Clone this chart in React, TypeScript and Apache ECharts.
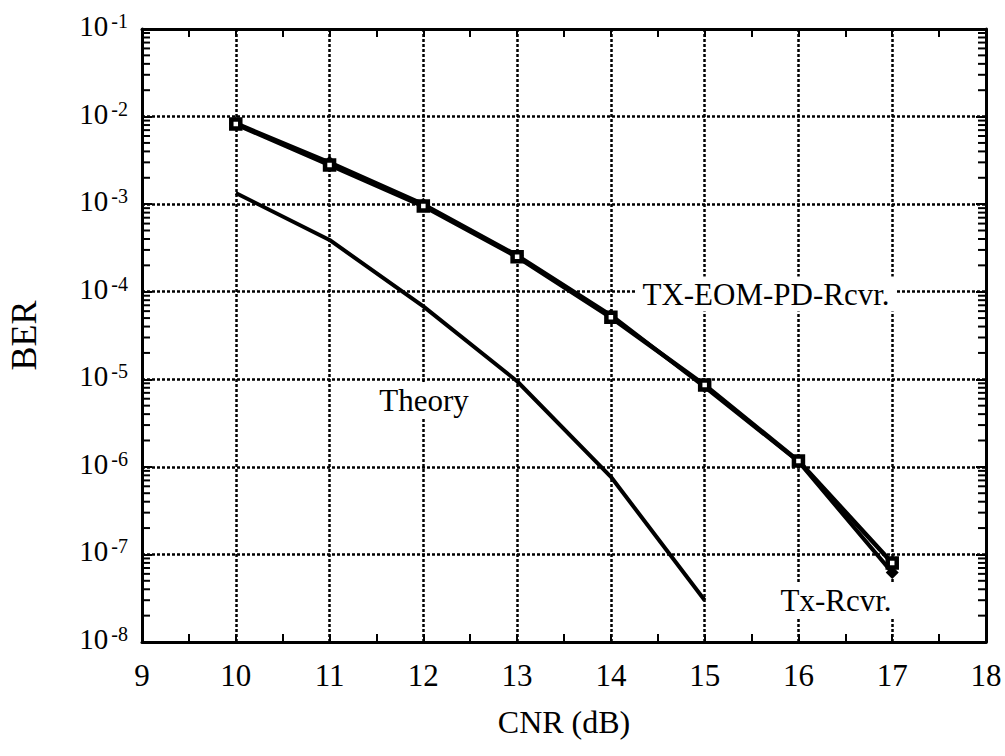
import React, { useEffect, useRef } from 'react';
import * as echarts from 'echarts';

const cnr = [10, 11, 12, 13, 14, 15, 16, 17];
const berTxEomPdRcvr = [8.2e-3, 2.8e-3, 9.5e-4, 2.5e-4, 5.1e-5, 8.6e-6, 1.17e-6, 8.0e-8];
const berTxRcvr = [8.4e-3, 3.0e-3, 1.0e-3, 2.6e-4, 5.4e-5, 8.2e-6, 1.15e-6, 6.2e-8];
const cnrTheory = [10, 11, 12, 13, 14, 15];
const berTheory = [1.34e-3, 3.9e-4, 6.8e-5, 9.5e-6, 7.7e-7, 3.0e-8];
const xMin = 9;
const xMax = 18;
const yMinExp = -8;
const yMaxExp = -1;
const minorMultipliers = [2, 3, 4, 5, 6, 7, 8, 9];

const FONT = 'Liberation Serif';

export default function App() {
  const ref = useRef<HTMLDivElement>(null);
  useEffect(() => {
    if (!ref.current) return;
    const chart = echarts.init(ref.current, undefined, { renderer: 'svg' });

    const minorVals: number[][] = [];
    for (let e = yMinExp; e < yMaxExp; e++) {
      for (const m of minorMultipliers) minorVals.push([xMin, m * Math.pow(10, e)]);
    }

    const gridLine = { color: '#000', width: 2.5, type: [3, 2] as any };
    const axisLine = { show: true, lineStyle: { color: '#000', width: 3 } };

    const option: any = {
      animation: false,
      backgroundColor: '#fff',
      textStyle: { fontFamily: FONT, color: '#000' },
      grid: { left: 142, top: 29, width: 844, height: 613, containLabel: false, outerBoundsMode: 'none' },
      xAxis: [
        {
          type: 'value', min: xMin, max: xMax, interval: 1, position: 'bottom',
          axisLine, axisTick: { show: true, inside: true, length: 8, lineStyle: { color: '#000', width: 2 } },
          minorTick: { show: true, splitNumber: 2, length: 8, lineStyle: { color: '#000', width: 2 } },
          splitLine: { show: true, lineStyle: gridLine },
          axisLabel: { fontSize: 31, fontFamily: FONT, color: '#000', margin: 18 },
          name: 'CNR (dB)', nameLocation: 'middle', nameGap: 64,
          nameTextStyle: { fontSize: 32, fontFamily: FONT, color: '#000' },
        },
        {
          type: 'value', min: xMin, max: xMax, interval: 1, position: 'top',
          axisLine, axisTick: { show: true, inside: true, length: 8, lineStyle: { color: '#000', width: 2 } },
          minorTick: { show: true, splitNumber: 2, length: 8, lineStyle: { color: '#000', width: 2 } },
          splitLine: { show: false }, axisLabel: { show: false },
        },
      ],
      yAxis: [
        {
          type: 'log', logBase: 10, min: Math.pow(10, yMinExp), max: Math.pow(10, yMaxExp), interval: 1,
          position: 'left',
          axisLine, axisTick: { show: true, inside: true, length: 10, lineStyle: { color: '#000', width: 2 } },
          splitLine: { show: true, lineStyle: gridLine },
          axisLabel: {
            margin: 14,
            formatter: (v: number) => `{b|10}{s|${Math.round(Math.log10(v))}}`,
            rich: {
              b: { fontSize: 29, fontFamily: FONT, color: '#000', padding: [0, 0, 6, 0] },
              s: { fontSize: 20, fontFamily: FONT, color: '#000', padding: [0, 0, 16, 3] },
            },
          },
          name: 'BER', nameLocation: 'middle', nameGap: 100,
          nameTextStyle: { fontSize: 36, fontFamily: FONT, color: '#000' },
        },
        {
          type: 'log', logBase: 10, min: Math.pow(10, yMinExp), max: Math.pow(10, yMaxExp), interval: 1,
          position: 'right',
          axisLine, axisTick: { show: true, inside: true, length: 10, lineStyle: { color: '#000', width: 2 } },
          splitLine: { show: false }, axisLabel: { show: false },
        },
      ],
      series: [
        {
          type: 'custom', name: 'minorTicks', silent: true, xAxisIndex: 0, yAxisIndex: 0,
          data: minorVals, z: 5,
          renderItem: (params: any, api: any) => {
            const cs = params.coordSys;
            const y = api.coord([api.value(0), api.value(1)])[1];
            return {
              type: 'group',
              children: [
                { type: 'line', shape: { x1: cs.x, y1: y, x2: cs.x + 8, y2: y }, style: { stroke: '#000', lineWidth: 2 } },
                { type: 'line', shape: { x1: cs.x + cs.width, y1: y, x2: cs.x + cs.width - 8, y2: y }, style: { stroke: '#000', lineWidth: 2 } },
              ],
            };
          },
        },
        {
          type: 'line', name: 'Theory', data: cnrTheory.map((x, i) => [x, berTheory[i]]),
          showSymbol: false, symbol: 'none', lineStyle: { color: '#000', width: 4 }, z: 6,
        },
        {
          type: 'line', name: 'Tx-Rcvr.', data: cnr.map((x, i) => [x, berTxRcvr[i]]),
          symbol: 'diamond', symbolSize: 13, itemStyle: { color: '#000' },
          lineStyle: { color: '#000', width: 4 }, z: 7,
        },
        {
          type: 'line', name: 'TX-EOM-PD-Rcvr.', data: cnr.map((x, i) => [x, berTxEomPdRcvr[i]]),
          symbol: 'rect', symbolSize: 9, itemStyle: { color: '#fff', borderColor: '#000', borderWidth: 4.5 },
          lineStyle: { color: '#000', width: 4.5 }, z: 8,
        },
      ],
      graphic: [
        {
          type: 'text', x: 766, y: 294, z: 20,
          style: { text: 'TX-EOM-PD-Rcvr.', font: `31px ${FONT}`, fill: '#000', align: 'center', verticalAlign: 'middle', backgroundColor: '#fff', padding: [2, 6] },
        },
        {
          type: 'text', x: 424, y: 400, z: 20,
          style: { text: 'Theory', font: `31px ${FONT}`, fill: '#000', align: 'center', verticalAlign: 'middle', backgroundColor: '#fff', padding: [2, 4] },
        },
        {
          type: 'text', x: 836, y: 600, z: 20,
          style: { text: 'Tx-Rcvr.', font: `31px ${FONT}`, fill: '#000', align: 'center', verticalAlign: 'middle', backgroundColor: '#fff', padding: [2, 4] },
        },
      ],
    };
    chart.setOption(option);
    return () => chart.dispose();
  }, []);
  return <div ref={ref} style={{ position: 'fixed', left: 0, top: 0, width: 1005, height: 756, background: '#fff' }} />;
}
